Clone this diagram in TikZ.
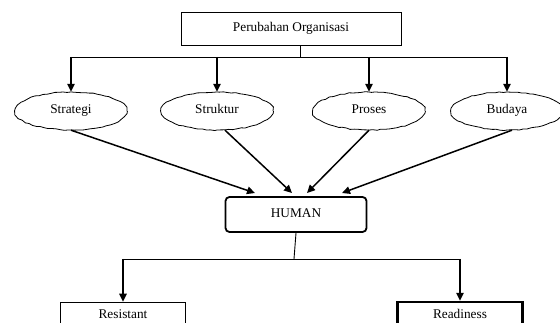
\documentclass[tikz,border=0pt]{standalone}
\usepackage{fontspec}
\setmainfont{Liberation Serif}
\usetikzlibrary{arrows.meta,
                shapes.geometric,
                decorations.pathmorphing}

\begin{document}
\begin{tikzpicture}[x=1pt, y=-1pt,
    every node/.style={font=\fontsize{13.3}{16}\selectfont, text height=1.6ex, text depth=0.45ex},
    arr/.style={-{Triangle[length=8pt,width=7.5pt]}, line width=1.5pt},
    faktor/.style={ellipse, minimum width=112pt, minimum height=38pt},
    awan/.style={decorate, decoration={random steps, segment length=4pt, amplitude=0.5pt}, line width=0.8pt},
    kotak/.style={draw, line width=0.8pt, minimum height=34pt}]
    \pgfmathsetseed{7}
    \clip (0,0) rectangle (560,323);

    \node [kotak, minimum width=220pt, minimum height=33pt] (top) at (291,28.5) {Perubahan Organisasi};

    \node [faktor] (strategi) at (71,111) {Strategi};
    \node [faktor] (struktur) at (217,111) {Struktur};
    \node [faktor] (proses) at (369,111) {Proses};
    \node [faktor] (budaya) at (507,111) {Budaya};
    \foreach \n in {strategi, struktur, proses, budaya}
        \draw [awan] (\n.center) ellipse [x radius=56pt, y radius=19pt];

    \node [draw, line width=1.8pt, rounded corners=4pt, minimum width=141pt, minimum height=35pt] (human) at (296,214.5) {HUMAN};

    \node [kotak, minimum width=125pt, minimum height=28pt] (resistant) at (123,316) {Resistant};
    \node [kotak, line width=2.4pt, minimum width=125pt, minimum height=28pt] (readiness) at (460,316) {Readiness};

    \coordinate (fork1) at (300,57);
    \draw [line width=0.9pt] ([xshift=9pt]top.south) -- (fork1);
    \draw [line width=0.9pt] (fork1 -| strategi) -- (fork1 -| budaya);
    \foreach \n in {strategi, struktur, proses, budaya}
        \draw [arr] (fork1 -| \n) -- (\n.north);

    \coordinate (h1) at (255,193);
    \coordinate (h2) at (292,193);
    \coordinate (h3) at (307,193);
    \coordinate (h4) at (342,193);
    \draw [arr] (strategi.south) -- (h1);
    \draw [arr] ([xshift=8pt]struktur.south) -- (h2);
    \draw [arr] (proses.south) -- (h3);
    \draw [arr] ([xshift=5pt]budaya.south) -- (h4);

    \coordinate (fork2) at (294,259);
    \draw [line width=0.9pt] (human.south) -- (fork2);
    \draw [line width=0.9pt] (fork2 -| resistant) -- (fork2 -| readiness);
    \draw [arr] (fork2 -| resistant) -- (resistant.north);
    \draw [arr] (fork2 -| readiness) -- (readiness.north);
\end{tikzpicture}
\end{document}
